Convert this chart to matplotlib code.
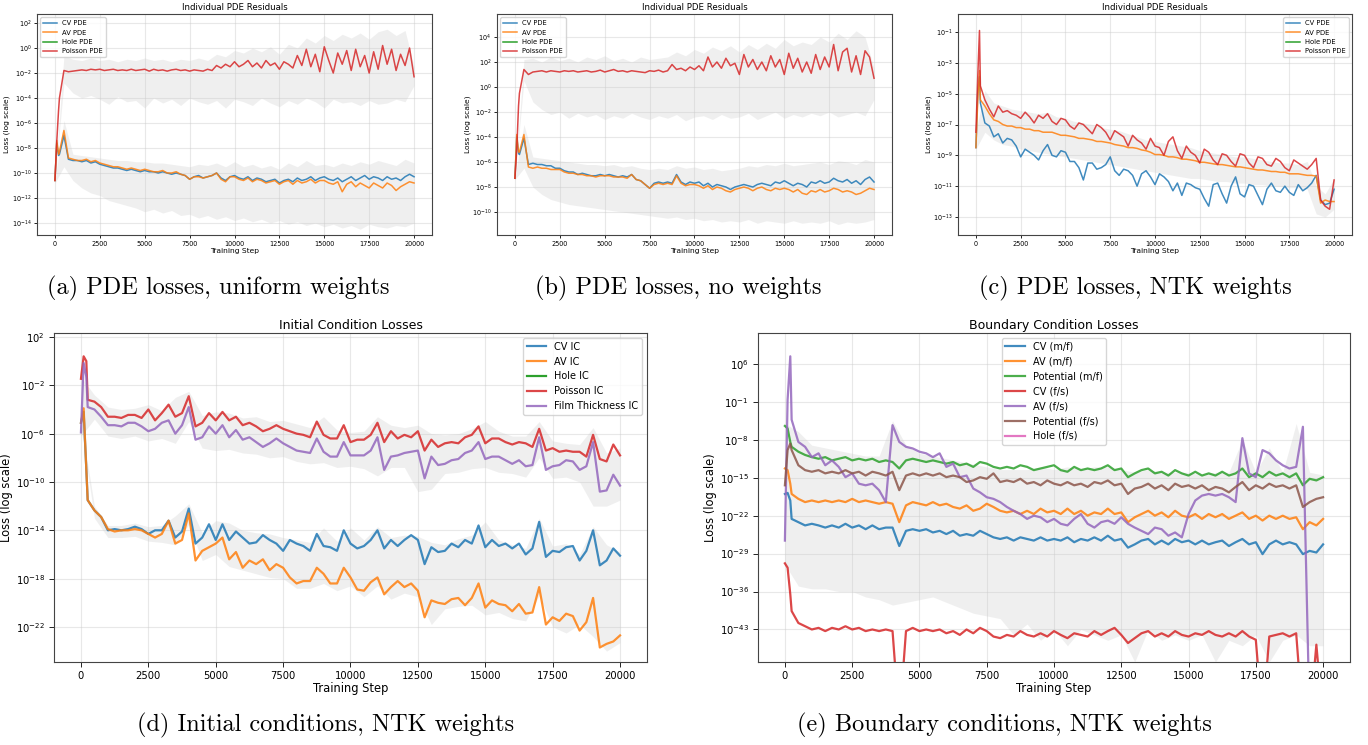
import numpy as np
import matplotlib
matplotlib.use('Agg')
import matplotlib.pyplot as plt
from matplotlib.ticker import NullLocator

plt.rcParams['font.family'] = ['DejaVu Sans']

#=========================================================================
# Training steps the curves were read at. All loss values are log10(loss).
steps = np.array([0, 100, 200] + list(range(250, 20001, 250)))
band_steps = np.arange(0, 20001, 500)
nan = np.nan

#=========================================================================
# (a) PDE losses, uniform weights
a_cv = [-10.6, -7.6, -8.6,
        -8.5, -7.0, -8.9, -9.0, -9.0, -9.1, -9.0, -9.2,
        -9.1, -9.3, -9.4, -9.5, -9.6, -9.6, -9.7, -9.8,
        -9.7, -9.8, -9.9, -9.8, -9.9, -9.9, -10.0, -9.9,
        -10.0, -10.1, -10.0, -10.1, -10.2, -10.5, -10.3, -10.2,
        -10.4, -10.3, -10.2, -10.0, -10.4, -10.6, -10.3, -10.2,
        -10.4, -10.5, -10.3, -10.6, -10.4, -10.5, -10.7, -10.6,
        -10.5, -10.8, -10.6, -10.5, -10.7, -10.4, -10.6, -10.5,
        -10.3, -10.6, -10.4, -10.3, -10.5, -10.6, -10.4, -10.7,
        -10.5, -10.3, -10.6, -10.4, -10.2, -10.5, -10.3, -10.4,
        -10.6, -10.3, -10.5, -10.4, -10.6, -10.3, -10.1, -10.3]
a_av = [-10.6, -7.4, -8.5,
        -8.3, -6.6, -8.8, -8.9, -9.0, -9.0, -8.9, -9.1,
        -9.0, -9.2, -9.3, -9.4, -9.5, -9.5, -9.6, -9.7,
        -9.6, -9.7, -9.8, -9.7, -9.8, -9.9, -9.9, -9.8,
        -10.0, -10.0, -9.9, -10.1, -10.2, -10.5, -10.3, -10.3,
        -10.4, -10.3, -10.2, -10.0, -10.5, -10.7, -10.3, -10.3,
        -10.5, -10.6, -10.4, -10.7, -10.5, -10.6, -10.8, -10.7,
        -10.6, -10.9, -10.7, -10.6, -10.9, -10.6, -10.8, -10.7,
        -10.5, -10.8, -10.6, -10.6, -10.8, -10.9, -10.7, -11.5,
        -10.9, -10.7, -11.1, -10.8, -11.0, -11.2, -10.8, -11.0,
        -11.2, -10.8, -11.0, -11.4, -11.1, -10.9, -10.7, -10.8]
a_poisson = [-10.6, -7.5, -5.0,
             -4.0, -1.8, -1.9, -1.85, -1.8, -1.75, -1.8, -1.7,
             -1.75, -1.7, -1.8, -1.75, -1.7, -1.8, -1.75, -1.8,
             -1.7, -1.8, -1.75, -1.7, -1.85, -1.7, -1.8, -1.75,
             -1.85, -1.75, -1.7, -1.8, -1.75, -1.85, -1.75, -1.8,
             -1.85, -1.7, -1.8, -1.4, -1.6, -1.3, -1.5, -1.1,
             -1.5, -1.3, -1.0, -1.5, -1.2, -1.6, -1.0, -1.4,
             -1.2, -1.7, -1.1, -1.3, -1.6, -0.6, -1.4, -0.1,
             -1.5, -0.5, -1.9, 0.1, -1.0, -2.0, -0.4, -1.3,
             -0.2, -1.8, -0.1, -1.5, -0.6, -2.0, -0.3, -1.7,
             0.2, -1.3, -0.1, -1.8, -0.5, -1.4, 0.0, -2.3]
# grey min/max bands (every 500 steps)
a_band_hi = [[-10.6,
              -0.6, -0.9, -1.0, -0.8, -1.0, -0.9, -1.1, -0.9,
              -1.0, -0.8, -1.0, -0.9, -1.1, -0.9, -1.0, -0.8,
              -1.0, -0.5, -0.7, -0.2, -0.4, 0.0, -0.3, 0.1,
              -0.5, 0.3, 0.0, 0.8, 0.4, 1.0, 0.6, 1.1,
              0.8, 1.2, 0.7, 1.3, 1.5, 1.0, 1.4, -1.5],
             [-10.5,
              -5.8, -8.5, -8.6, -8.7, -8.8, -8.9, -9.0, -9.0,
              -9.1, -9.1, -9.2, -9.2, -9.3, -9.4, -9.5, -9.3,
              -9.4, -9.2, -9.5, -9.1, -9.5, -9.3, -9.6, -9.4,
              -9.7, -9.2, -9.5, -9.0, -9.4, -9.3, -9.5, -9.2,
              -9.4, -9.1, -9.3, -9.0, -9.2, -9.4, -8.9, -9.2]]
a_band_lo = [[-10.6,
              -2.8, -3.6, -4.0, -3.8, -4.1, -4.5, -3.9, -4.3,
              -4.2, -4.8, -4.0, -4.4, -4.1, -4.6, -4.0, -4.3,
              -4.5, -4.2, -4.8, -4.1, -4.3, -4.6, -4.0, -4.4,
              -4.7, -4.2, -4.5, -4.0, -4.3, -4.8, -4.1, -4.4,
              -4.3, -4.6, -4.2, -4.5, -4.4, -4.1, -4.3, -3.0],
             [-10.8,
              -9.5, -10.6, -11.2, -11.6, -11.8, -12.2, -12.4, -12.6,
              -12.8, -13.1, -12.9, -13.2, -13.0, -13.4, -13.3, -13.6,
              -13.4, -13.7, -13.5, -13.8, -13.6, -13.9, -13.7, -14.0,
              -13.8, -14.1, -13.9, -14.2, -14.0, -14.3, -14.1, -14.4,
              -14.2, -14.5, -14.1, -14.3, -14.4, -14.2, -14.3, -14.0]]

#=========================================================================
# (b) PDE losses, no weights
b_cv = [-7.3, -4.0, -5.3,
        -5.4, -4.1, -6.2, -6.1, -6.2, -6.2, -6.3, -6.3,
        -6.5, -6.5, -6.7, -6.8, -6.8, -7.0, -6.9, -7.0,
        -7.1, -7.1, -7.0, -7.1, -7.0, -7.1, -7.2, -7.1,
        -7.2, -7.0, -7.4, -7.5, -7.8, -8.1, -7.7, -7.6,
        -7.7, -7.6, -7.7, -7.0, -7.6, -7.8, -7.6, -7.7,
        -7.6, -7.9, -7.7, -8.0, -7.8, -7.9, -8.0, -8.2,
        -8.0, -7.9, -7.8, -7.9, -8.0, -7.8, -7.7, -7.8,
        -7.9, -7.6, -7.7, -7.5, -7.7, -7.9, -7.7, -7.8,
        -8.0, -7.6, -7.7, -7.5, -7.7, -7.6, -7.3, -7.5,
        -7.6, -7.4, -7.7, -7.5, -7.8, -7.4, -7.2, -7.6]
b_av = [-7.3, -3.8, -5.2,
        -5.2, -3.8, -6.4, -6.5, -6.4, -6.5, -6.5, -6.6,
        -6.6, -6.6, -6.8, -6.9, -6.9, -7.0, -7.0, -7.1,
        -7.1, -7.2, -7.1, -7.1, -7.1, -7.2, -7.2, -7.2,
        -7.3, -7.0, -7.4, -7.5, -7.8, -8.1, -7.8, -7.7,
        -7.8, -7.7, -7.8, -7.1, -7.7, -7.9, -7.8, -7.8,
        -7.9, -8.1, -7.9, -8.2, -8.0, -8.1, -8.3, -8.4,
        -8.2, -8.1, -8.0, -8.1, -8.3, -8.1, -8.0, -8.2,
        -8.3, -8.1, -8.2, -8.1, -8.2, -8.4, -8.2, -8.5,
        -8.6, -8.3, -8.4, -8.2, -8.4, -8.3, -8.1, -8.2,
        -8.4, -8.3, -8.4, -8.6, -8.5, -8.3, -8.1, -8.2]
b_poisson = [-7.3, -5.0, -1.5,
             -0.5, 1.4, 1.0, 1.2, 1.25, 1.3, 1.2, 1.3,
             1.25, 1.2, 1.3, 1.25, 1.3, 1.2, 1.25, 1.3,
             1.2, 1.25, 1.35, 1.2, 1.3, 1.4, 1.25, 1.3,
             1.2, 1.3, 1.25, 1.2, 1.15, 1.3, 1.25, 1.35,
             1.2, 1.3, 1.8, 1.4, 1.5, 1.3, 1.6, 1.4,
             1.7, 1.3, 2.4, 1.6, 2.0, 1.5, 2.3, 1.7,
             1.9, 1.0, 2.6, 1.6, 2.2, 1.4, 2.0, 1.3,
             2.5, 1.6, 2.2, 1.0, 2.7, 1.5, 2.3, 1.2,
             2.0, 1.1, 2.6, 1.4, 2.4, 1.6, 3.4, 1.3,
             2.8, 3.1, 1.2, 2.5, 1.0, 2.9, 2.4, 0.7]
b_band_hi = [[-7.3,
              2.2, 2.3, 2.0, 2.4, 2.1, 2.3, 2.0, 2.4,
              2.2, 2.5, 2.1, 2.3, 2.0, 2.4, 2.2, 2.3,
              2.4, 2.8, 2.5, 3.0, 2.7, 3.2, 2.9, 3.3,
              2.8, 3.4, 3.0, 3.5, 3.1, 3.8, 3.3, 3.6,
              3.4, 4.0, 3.6, 4.3, 3.8, 4.5, 4.0, 1.5],
             [-7.2,
              -3.0, -5.6, -5.7, -5.8, -5.9, -6.0, -6.1, -6.2,
              -6.2, -6.3, -6.2, -6.4, -6.3, -6.5, -6.6, -6.5,
              -6.6, -6.3, -6.5, -6.4, -6.6, -6.5, -6.7, -6.6,
              -6.5, -6.3, -6.4, -6.2, -6.3, -6.1, -6.3, -6.2,
              -6.1, -6.0, -6.2, -5.9, -6.0, -6.2, -5.8, -6.0]]
b_band_lo = [[-7.3,
              0.5, -1.2, -1.8, -2.2, -2.0, -2.5, -2.1, -2.4,
              -2.2, -2.6, -2.3, -2.5, -2.1, -2.4, -2.6, -2.3,
              -2.5, -2.2, -2.7, -2.4, -2.3, -2.6, -2.2, -2.5,
              -2.4, -2.1, -2.6, -2.3, -2.0, -2.5, -2.2, -2.4,
              -2.1, -2.3, -2.0, -2.4, -2.2, -2.0, -2.3, -1.0],
             [-7.4,
              -6.5, -8.0, -8.6, -9.0, -9.2, -9.4, -9.5, -9.6,
              -9.7, -9.8, -9.9, -10.0, -10.1, -10.2, -10.3, -10.4,
              -10.5, -10.4, -10.6, -10.5, -10.7, -10.6, -10.8, -10.7,
              -10.8, -10.6, -10.9, -10.7, -10.8, -10.9, -10.7, -10.9,
              -10.8, -10.9, -10.7, -11.0, -10.8, -10.9, -10.8, -10.6]]

#=========================================================================
# (c) PDE losses, NTK weights
c_cv = [-8.5, -5.0, -3.9,
        -5.6, -6.9, -7.1, -7.8, -7.6, -8.2, -7.9, -8.0,
        -8.4, -9.1, -8.6, -8.8, -9.0, -9.3, -8.7, -8.3,
        -9.0, -9.1, -8.7, -8.8, -9.4, -9.4, -9.8, -10.6,
        -9.5, -9.5, -9.9, -9.8, -9.6, -9.1, -10.0, -10.3,
        -9.9, -10.0, -10.3, -11.0, -10.2, -10.0, -10.4, -10.9,
        -10.2, -10.4, -10.7, -11.3, -10.8, -11.6, -10.8, -10.9,
        -11.1, -11.2, -11.8, -12.3, -10.9, -10.8, -11.5, -12.1,
        -11.0, -10.4, -11.5, -11.7, -10.9, -11.0, -11.6, -12.2,
        -11.2, -10.8, -11.3, -11.4, -11.0, -11.4, -11.6, -10.9,
        -11.3, -11.1, -10.8, -10.3, -11.9, -12.2, -12.1, -11.2]
c_av = [-8.5, -5.5, -3.5,
        -5.4, -5.8, -6.3, -6.7, -6.8, -7.0, -7.1, -7.1,
        -7.2, -7.2, -7.3, -7.3, -7.4, -7.4, -7.5, -7.5,
        -7.5, -7.6, -7.7, -7.7, -7.75, -7.8, -7.9, -7.9,
        -7.95, -8.0, -8.1, -8.1, -8.15, -8.2, -8.3, -8.35,
        -8.4, -8.5, -8.5, -8.55, -8.65, -8.7, -8.8, -8.95,
        -8.95, -9.0, -9.1, -9.1, -9.15, -9.25, -9.25, -9.3,
        -9.35, -9.45, -9.45, -9.5, -9.55, -9.6, -9.6, -9.65,
        -9.7, -9.75, -9.75, -9.8, -9.85, -9.9, -9.95, -9.95,
        -10.0, -10.05, -10.05, -10.1, -10.1, -10.2, -10.2, -10.2,
        -10.25, -10.3, -10.3, -10.35, -12.1, -11.9, -12.0, -12.0]
c_poisson = [-7.5, -4.0, -0.9,
             -4.5, -5.4, -6.0, -6.5, -5.8, -6.2, -6.1, -6.3,
             -6.4, -6.6, -6.2, -6.5, -6.9, -6.4, -6.6, -6.3,
             -6.8, -7.0, -6.6, -6.7, -7.1, -7.3, -6.9, -7.0,
             -7.3, -7.6, -7.0, -7.2, -7.5, -8.0, -7.4, -7.6,
             -7.8, -8.4, -7.7, -8.0, -8.2, -8.6, -7.9, -8.4,
             -8.5, -9.0, -8.1, -7.8, -8.7, -9.2, -8.4, -8.8,
             -9.0, -9.5, -8.6, -8.8, -9.3, -9.6, -8.9, -9.0,
             -9.4, -9.7, -8.9, -9.0, -9.5, -9.8, -9.1, -9.2,
             -9.6, -9.7, -9.2, -9.4, -9.8, -10.0, -9.3, -9.5,
             -9.7, -9.9, -9.6, -9.2, -11.9, -12.3, -12.5, -10.6]
c_band_hi = [[-7.4,
              -4.8, -5.6, -5.8, -6.0, -6.1, -6.2, -6.3, -6.2,
              -6.5, -6.6, -6.8, -6.9, -7.0, -7.2, -7.3, -7.4,
              -7.6, -7.8, -8.0, -8.1, -8.2, -8.3, -8.4, -8.5,
              -8.7, -8.8, -8.9, -9.0, -9.1, -9.1, -9.2, -9.3,
              -9.4, -9.5, -9.5, -9.6, -9.4, -11.0, -11.5, -10.5]]
c_band_lo = [[-8.6,
              -7.5, -8.0, -8.3, -8.4, -8.6, -8.7, -8.8, -8.9,
              -9.0, -9.1, -9.2, -9.3, -9.4, -9.5, -9.6, -9.7,
              -9.8, -9.9, -10.0, -10.1, -10.2, -10.3, -10.4, -10.5,
              -10.5, -10.6, -10.7, -10.7, -10.8, -10.8, -10.9, -10.9,
              -11.0, -11.0, -11.1, -11.1, -11.2, -12.8, -13.0, -12.5]]

#=========================================================================
# (d) Initial condition losses, NTK weights
d_cv = [-5.1, -4.2, -9.0,
        -11.5, -12.35, -12.9, -14.0, -13.9, -14.0, -13.9, -13.7,
        -13.9, -14.3, -14.0, -14.0, -13.2, -14.6, -14.1, -12.2,
        -15.1, -14.6, -13.5, -14.8, -13.5, -14.8, -14.1, -14.6,
        -15.1, -15.0, -14.4, -14.8, -15.1, -15.7, -14.8, -15.1,
        -15.3, -15.7, -14.3, -15.3, -15.4, -15.7, -14.0, -15.1,
        -15.5, -15.3, -14.8, -14.0, -15.5, -14.8, -15.3, -14.8,
        -14.4, -14.8, -16.8, -15.4, -15.8, -15.7, -15.1, -15.4,
        -14.8, -15.1, -13.6, -15.4, -14.8, -15.3, -15.1, -15.5,
        -15.1, -16.0, -15.5, -13.3, -16.2, -15.7, -15.8, -15.4,
        -15.3, -16.5, -15.7, -14.0, -16.9, -16.5, -15.5, -16.1]
d_av = [-5.1, -3.9, -9.0,
        -11.5, -12.35, -12.9, -13.9, -14.1, -14.0, -14.0, -13.9,
        -14.0, -14.3, -14.6, -14.3, -13.2, -15.1, -14.8, -12.6,
        -16.5, -15.7, -15.4, -15.1, -14.6, -16.4, -15.8, -17.1,
        -16.5, -16.8, -16.4, -17.3, -16.8, -17.1, -17.9, -18.4,
        -18.2, -18.2, -17.1, -17.6, -18.4, -18.4, -17.1, -17.9,
        -18.9, -19.0, -18.3, -17.9, -19.3, -18.7, -18.2, -18.7,
        -18.4, -19.0, -21.2, -19.8, -20.0, -20.1, -19.7, -19.6,
        -20.2, -19.6, -18.4, -20.4, -19.8, -20.1, -20.2, -20.7,
        -20.1, -20.9, -20.8, -18.7, -21.8, -21.2, -21.5, -20.9,
        -21.1, -22.3, -21.6, -19.6, -23.7, -23.4, -23.2, -22.7]
d_poisson = [-1.46, 0.4, 0.0,
             -3.2, -3.35, -3.8, -4.6, -4.6, -4.7, -4.45, -4.45,
             -4.7, -4.0, -4.9, -4.3, -3.6, -4.6, -4.3, -2.9,
             -5.4, -5.1, -4.3, -4.9, -4.2, -4.9, -4.6, -5.3,
             -5.1, -5.4, -5.8, -5.6, -5.3, -5.6, -5.8, -6.0,
             -6.1, -6.3, -5.0, -6.1, -6.4, -6.4, -5.3, -6.7,
             -6.5, -6.5, -6.1, -5.1, -6.7, -5.8, -6.4, -6.1,
             -6.3, -5.8, -7.4, -6.5, -7.1, -6.8, -6.7, -6.8,
             -6.3, -6.1, -5.4, -6.8, -6.4, -6.4, -6.7, -6.9,
             -6.7, -6.8, -7.1, -5.6, -7.4, -7.2, -7.5, -7.4,
             -7.5, -7.5, -7.9, -6.1, -8.1, -8.3, -6.9, -7.8]
d_film = [-5.9, -0.15, -1.3,
          -3.8, -4.0, -4.6, -5.3, -5.3, -5.4, -5.1, -5.1,
          -5.4, -5.8, -5.6, -5.1, -4.9, -6.0, -5.3, -3.8,
          -6.5, -6.3, -5.4, -6.0, -5.3, -6.3, -5.7, -6.5,
          -6.3, -6.7, -7.1, -6.8, -6.4, -6.8, -7.1, -7.4,
          -7.5, -7.6, -6.4, -7.5, -7.9, -7.9, -6.7, -7.8,
          -7.8, -7.8, -7.4, -6.3, -9.0, -7.9, -7.8, -7.6,
          -7.5, -7.4, -9.7, -7.9, -8.6, -8.5, -8.2, -8.1,
          -7.6, -7.4, -6.7, -8.1, -7.9, -7.9, -8.2, -8.5,
          -8.2, -8.7, -8.6, -6.3, -9.0, -8.7, -8.6, -8.2,
          -8.3, -9.0, -8.7, -6.7, -10.8, -10.7, -9.4, -10.3]
d_band_hi = [[-1.3,
              -2.8, -3.8, -4.0, -3.9, -3.6, -4.1, -3.0, -2.5,
              -4.5, -4.2, -4.3, -4.7, -4.6, -5.0, -4.9, -5.2,
              -5.5, -4.6, -5.7, -5.9, -5.8, -4.6, -5.3, -5.5,
              -5.3, -6.0, -6.1, -6.0, -5.6, -5.0, -5.8, -6.2,
              -6.2, -5.0, -6.6, -6.8, -6.9, -5.5, -7.6, -7.2],
             [-5.0,
              -12.0, -13.6, -13.6, -13.4, -13.7, -13.6, -12.8, -11.8,
              -14.2, -13.2, -13.4, -14.0, -14.2, -14.3, -14.6, -14.8,
              -15.0, -13.8, -14.9, -13.8, -14.8, -13.7, -14.6, -14.4,
              -14.5, -15.0, -15.2, -14.7, -14.4, -13.3, -14.8, -15.2,
              -15.5, -13.0, -15.3, -15.1, -16.0, -13.7, -15.2, -15.8]]
d_band_lo = [[-6.2,
              -4.8, -6.2, -6.4, -6.2, -6.6, -6.4, -6.8, -5.0,
              -7.2, -7.4, -7.3, -7.6, -7.7, -8.0, -7.9, -8.3,
              -8.5, -8.4, -8.8, -8.7, -8.9, -9.5, -8.8, -8.8,
              -10.8, -10.6, -9.3, -9.2, -8.9, -8.8, -9.2, -9.3,
              -9.6, -8.0, -9.7, -9.6, -10.0, -12.0, -12.0, -11.5],
             [-5.4,
              -13.0, -14.6, -14.6, -14.5, -14.9, -15.0, -15.2, -13.5,
              -16.5, -16.0, -17.0, -17.3, -17.6, -17.9, -18.0, -18.8,
              -18.8, -18.4, -19.0, -18.6, -19.5, -18.6, -19.7, -19.2,
              -19.5, -21.8, -20.5, -20.3, -20.2, -21.0, -20.8, -21.3,
              -21.5, -19.4, -22.0, -22.5, -21.8, -22.8, -24.0, -23.3]]

#=========================================================================
# (e) Boundary condition losses, NTK weights (-60 = dropped to ~0)
e_cv_mf = [-18.0, -17.8, -19.2,
           -22.6, -23.2, -23.8, -23.5, -23.8, -24.2, -23.8, -24.2,
           -23.5, -24.2, -23.8, -24.5, -23.8, -24.5, -24.2, -24.2,
           -27.6, -24.8, -24.5, -24.8, -24.5, -25.1, -24.8, -25.4,
           -24.8, -25.7, -25.4, -25.7, -24.8, -25.4, -26.0, -26.3,
           -26.0, -26.6, -26.0, -26.3, -26.6, -26.0, -26.6, -26.3,
           -26.6, -26.0, -26.9, -26.3, -26.6, -26.0, -26.6, -25.7,
           -26.6, -26.3, -27.9, -27.3, -26.6, -26.3, -27.3, -26.6,
           -27.3, -26.3, -26.9, -26.6, -27.3, -26.6, -27.3, -26.9,
           -26.6, -27.6, -26.9, -26.3, -27.3, -26.9, -29.1, -27.3,
           -26.6, -27.3, -26.9, -27.3, -29.1, -28.5, -28.8, -27.3]
e_av_mf = [-13.3, -13.6, -16.1,
           -18.0, -18.9, -19.5, -19.2, -19.5, -19.2, -19.5, -19.2,
           -19.5, -18.9, -19.5, -19.2, -19.5, -19.8, -19.5, -19.8,
           -23.2, -20.1, -19.5, -19.8, -20.1, -19.5, -20.1, -19.8,
           -20.4, -20.7, -20.1, -21.1, -20.7, -19.8, -20.4, -21.1,
           -21.4, -21.1, -21.7, -21.1, -21.7, -20.7, -21.4, -21.1,
           -21.7, -20.7, -21.7, -21.1, -22.0, -21.4, -21.7, -20.7,
           -21.7, -21.4, -23.2, -22.3, -21.7, -21.1, -22.0, -21.4,
           -22.3, -21.1, -22.0, -22.3, -21.7, -22.6, -21.7, -22.3,
           -21.7, -22.6, -22.0, -21.4, -22.6, -22.0, -22.9, -22.0,
           -22.6, -22.0, -22.6, -22.3, -24.5, -23.2, -23.8, -22.6]
e_pot_mf = [-5.45, -5.9, -8.4,
            -9.3, -10.2, -10.8, -11.2, -11.5, -11.2, -11.8, -11.5,
            -11.2, -11.8, -11.5, -11.8, -11.5, -12.1, -11.8, -12.1,
            -13.3, -11.8, -11.5, -11.8, -12.1, -11.8, -12.1, -12.4,
            -12.1, -12.7, -12.4, -13.0, -12.1, -12.4, -13.0, -13.3,
            -13.0, -13.3, -12.7, -13.0, -13.6, -13.3, -13.0, -12.7,
            -13.6, -13.9, -13.0, -13.6, -13.3, -13.6, -13.3, -12.7,
            -13.6, -13.3, -14.9, -14.2, -13.6, -13.3, -14.2, -13.9,
            -14.6, -13.6, -14.2, -14.6, -13.9, -14.6, -14.2, -14.6,
            -13.9, -14.6, -14.2, -13.3, -14.9, -14.2, -14.9, -13.9,
            -14.6, -14.2, -14.9, -14.2, -16.4, -15.2, -15.5, -14.9]
e_cv_fs = [-30.8, -31.6, -36.5,
           -39.6, -41.8, -42.4, -43.0, -42.7, -43.3, -42.7, -43.0,
           -42.4, -43.0, -42.7, -43.3, -43.0, -43.3, -43.0, -43.3,
           -60.0, -43.3, -42.7, -43.3, -43.0, -43.3, -43.0, -43.7,
           -43.3, -44.0, -43.0, -43.7, -42.7, -43.3, -44.3, -44.6,
           -44.0, -44.3, -43.3, -44.0, -44.3, -43.7, -44.3, -43.3,
           -44.0, -44.6, -43.7, -44.0, -44.3, -43.3, -44.0, -43.3,
           -42.7, -44.0, -45.5, -44.6, -43.7, -43.3, -44.3, -43.7,
           -44.3, -43.3, -44.0, -44.3, -43.7, -44.0, -43.3, -44.0,
           -44.3, -43.7, -44.3, -43.3, -44.3, -44.9, -60.0, -44.3,
           -44.0, -43.7, -44.3, -43.7, -60.0, -60.0, -45.8, -60.0]
e_av_fs = [-26.6, -0.6, 7.4,
           -4.3, -8.4, -9.3, -11.2, -10.5, -12.7, -11.8, -13.0,
           -14.9, -14.2, -16.1, -16.4, -16.1, -17.3, -19.5, -5.3,
           -8.4, -9.3, -9.6, -10.2, -10.5, -11.2, -10.5, -13.0,
           -12.4, -14.9, -14.6, -17.0, -17.7, -18.6, -18.9, -19.5,
           -20.4, -21.1, -21.7, -22.6, -22.0, -22.3, -23.2, -22.6,
           -23.5, -23.8, -22.6, -21.7, -23.5, -24.2, -23.2, -22.9,
           -23.5, -22.3, -23.5, -24.2, -24.8, -25.4, -24.2, -24.5,
           -25.7, -25.1, -26.0, -21.7, -19.2, -18.3, -18.0, -18.3,
           -18.0, -18.6, -19.5, -7.7, -14.2, -14.9, -9.9, -10.5,
           -11.8, -12.7, -13.3, -13.0, -5.6, -60.0, nan, nan]
e_pot_fs = [-16.4, -9.9, -8.7,
            -9.9, -12.7, -13.6, -13.9, -13.6, -14.2, -13.9, -14.2,
            -13.6, -14.2, -13.9, -14.6, -13.9, -14.2, -14.6, -13.9,
            -17.3, -14.6, -14.2, -14.6, -14.2, -14.6, -14.2, -14.9,
            -14.6, -14.9, -15.8, -15.5, -14.9, -15.2, -14.2, -15.8,
            -15.5, -15.8, -15.2, -16.1, -15.8, -16.4, -15.5, -16.1,
            -16.4, -15.8, -16.4, -16.1, -16.7, -15.8, -16.1, -15.5,
            -16.4, -16.1, -18.0, -17.0, -16.7, -16.1, -17.0, -16.4,
            -17.3, -16.1, -16.7, -16.4, -17.0, -16.4, -17.3, -16.7,
            -17.0, -17.7, -16.7, -15.8, -17.3, -16.4, -17.0, -16.1,
            -16.7, -16.4, -17.0, -16.4, -20.4, -19.5, -18.9, -18.6]
e_band_hi = [[-5.0,
              -6.5, -9.0, -9.5, -10.0, -10.5, -11.0, -11.0, -4.5,
              -9.0, -10.5, -11.0, -11.5, -12.0, -12.5, -13.0, -13.5,
              -13.5, -13.5, -13.0, -13.5, -13.0, -13.5, -13.0, -13.0,
              -13.5, -14.0, -13.5, -14.0, -14.0, -14.0, -14.5, -14.0,
              -14.0, -8.0, -14.0, -9.5, -14.0, -5.0, -14.0, -14.5]]
e_band_lo = [[-31.0,
              -35.0, -35.5, -35.5, -36.0, -36.0, -37.0, -37.5, -38.5,
              -38.0, -37.5, -37.0, -38.0, -39.0, -40.0, -40.5, -41.0,
              -44.0, -42.0, -45.0, -43.0, -46.0, -43.0, -44.0, -45.0,
              -44.0, -49.0, -43.0, -45.0, -44.0, -45.0, -44.0, -49.0,
              -45.0, -46.0, -44.0, -49.0, -45.0, -44.0, -46.0, -46.0]]

#=========================================================================
def draw_panel(ax, lines, bands_lo, bands_hi, title, ylim, yticks, small, legend_loc):
    '''Draws one loss panel on a log y axis. lines holds (label, color, log10 values or None)'''
    ax.set_yscale('log')
    if small:
        lw, fs_title, fs_tick, fs_label, fs_leg, pad = 1.1, 6.2, 4.7, 5.4, 4.9, 1.5
    else:
        lw, fs_title, fs_tick, fs_label, fs_leg, pad = 1.6, 9.0, 7.2, 8.3, 7.0, 3.0

    for lo, hi in zip(bands_lo, bands_hi):
        ax.fill_between(band_steps, 10.0 ** np.array(lo), 10.0 ** np.array(hi),
                        color='lightgray', alpha=0.35, lw=0)
    for label, color, vals in lines:
        if vals is None:  # series that never shows up on the plot
            ax.plot([], [], color=color, lw=lw, label=label)
        else:
            ax.plot(steps, 10.0 ** np.array(vals), color=color, lw=lw, alpha=0.85, label=label)

    ax.set_xlim(-1000, 21000)
    ax.set_ylim(10.0 ** ylim[0], 10.0 ** ylim[1])
    ax.set_yticks(10.0 ** np.array(yticks))
    ax.yaxis.set_minor_locator(NullLocator())
    ax.set_xticks(np.arange(0, 20001, 2500))
    ax.grid(True, color='#cccccc', alpha=0.45, lw=0.8)
    ax.tick_params(labelsize=fs_tick, length=2.5 if small else 3.5, width=0.6, pad=pad)
    for sp in ax.spines.values():
        sp.set_color('#444444')
        sp.set_linewidth(0.8)
    ax.set_title(title, fontsize=fs_title, pad=3)
    ax.set_xlabel('Training Step', fontsize=fs_label, labelpad=1)
    ax.set_ylabel('Loss (log scale)', fontsize=fs_label, labelpad=1 if small else 2)
    ax.legend(loc=legend_loc, fontsize=fs_leg, framealpha=0.8)

#=========================================================================
fig = plt.figure(figsize=(13.68, 7.45), dpi=100)

ax_a = fig.add_axes([0.02705, 0.68456, 0.28874, 0.29664])
ax_b = fig.add_axes([0.36330, 0.68456, 0.28874, 0.29664])
ax_c = fig.add_axes([0.70029, 0.68456, 0.28801, 0.29664])
ax_d = fig.add_axes([0.03947, 0.11141, 0.43348, 0.44161])
ax_e = fig.add_axes([0.55409, 0.11141, 0.43275, 0.44161])

pde_title = 'Individual PDE Residuals'
draw_panel(ax_a, [('CV PDE', 'tab:blue', a_cv), ('AV PDE', 'tab:orange', a_av),
                  ('Hole PDE', 'tab:green', None), ('Poisson PDE', 'tab:red', a_poisson)],
           a_band_lo, a_band_hi, pde_title, (-14.96, 2.72), np.arange(-14, 3, 2), True, 'upper left')
draw_panel(ax_b, [('CV PDE', 'tab:blue', b_cv), ('AV PDE', 'tab:orange', b_av),
                  ('Hole PDE', 'tab:green', None), ('Poisson PDE', 'tab:red', b_poisson)],
           b_band_lo, b_band_hi, pde_title, (-11.84, 5.84), np.arange(-10, 5, 2), True, 'upper left')
draw_panel(ax_c, [('CV PDE', 'tab:blue', c_cv), ('AV PDE', 'tab:orange', c_av),
                  ('Hole PDE', 'tab:green', None), ('Poisson PDE', 'tab:red', c_poisson)],
           c_band_lo, c_band_hi, pde_title, (-14.17, 0.17), np.arange(-13, 0, 2), True, 'upper right')
draw_panel(ax_d, [('CV IC', 'tab:blue', d_cv), ('AV IC', 'tab:orange', d_av),
                  ('Hole IC', 'tab:green', None), ('Poisson IC', 'tab:red', d_poisson),
                  ('Film Thickness IC', 'tab:purple', d_film)],
           d_band_lo, d_band_hi, 'Initial Condition Losses', (-24.9, 2.33), np.arange(-22, 3, 4),
           False, 'upper right')
draw_panel(ax_e, [('CV (m/f)', 'tab:blue', e_cv_mf), ('AV (m/f)', 'tab:orange', e_av_mf),
                  ('Potential (m/f)', 'tab:green', e_pot_mf), ('CV (f/s)', 'tab:red', e_cv_fs),
                  ('AV (f/s)', 'tab:purple', e_av_fs), ('Potential (f/s)', 'tab:brown', e_pot_fs),
                  ('Hole (f/s)', 'tab:pink', None)],
           e_band_lo, e_band_hi, 'Boundary Condition Losses', (-49.0, 11.7), np.arange(-43, 7, 7),
           False, 'upper center')

# sub-captions, LaTeX style
cap = dict(fontfamily='cmr10', fontsize=17.5, ha='center', va='center')
fig.text(0.1594, 0.6134, '(a) PDE losses, uniform weights', **cap)
fig.text(0.4956, 0.6134, '(b) PDE losses, no weights', **cap)
fig.text(0.8297, 0.6134, '(c) PDE losses, NTK weights', **cap)
fig.text(0.2383, 0.0268, '(d) Initial conditions, NTK weights', **cap)
fig.text(0.7346, 0.0268, '(e) Boundary conditions, NTK weights', **cap)

fig.savefig('out.png', dpi=100)
